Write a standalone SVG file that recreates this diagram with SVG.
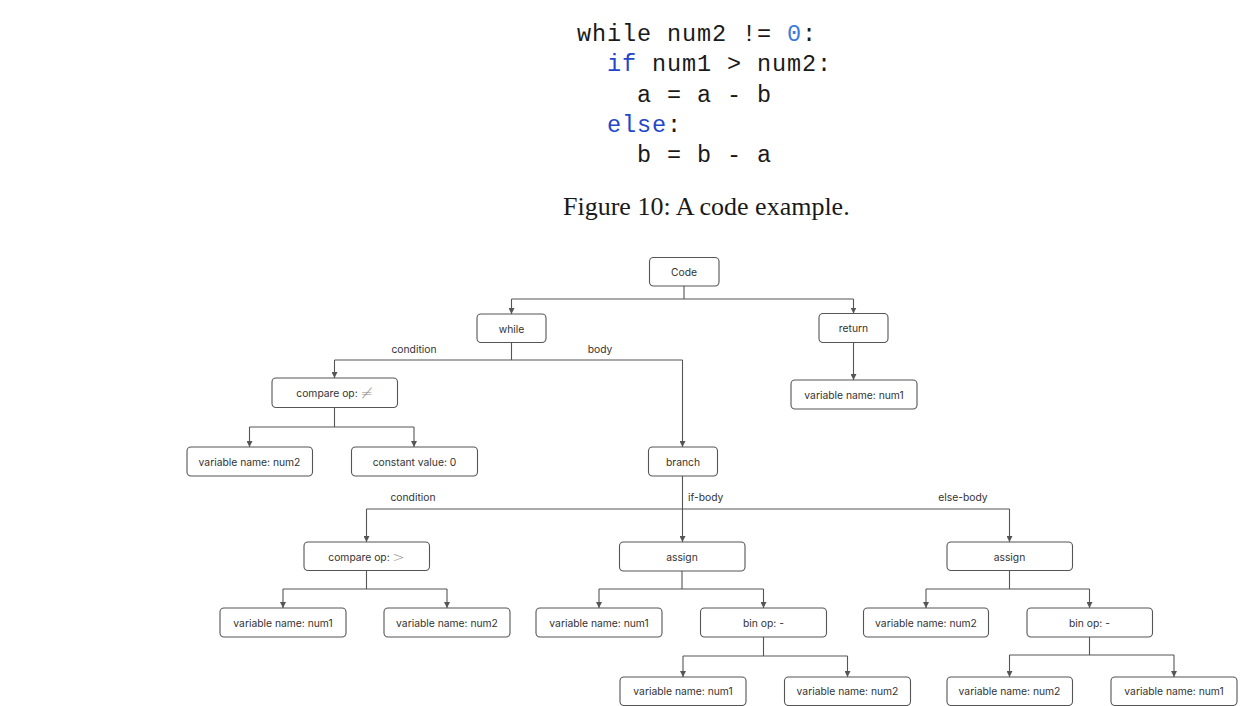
<svg xmlns="http://www.w3.org/2000/svg" width="1252" height="706" viewBox="0 0 1252 706">
<defs>
<marker id="ah" viewBox="0 0 8 8" refX="8" refY="4" markerWidth="6" markerHeight="6" markerUnits="userSpaceOnUse" orient="auto">
<path d="M0,0 L8,4 L0,8 z" fill="#555"/>
</marker>
<style>
.code{font-family:"Liberation Mono","DejaVu Sans Mono",monospace;font-size:23.5px;letter-spacing:0.9px;fill:#1a1a1a}
.kw{fill:#2347c8}
.num{fill:#3b7be0}
.cap{font-family:"Liberation Serif","Times New Roman",serif;font-size:26px;fill:#1a1a1a}
.box{fill:#fff;stroke:#555;stroke-width:1.1}
.lbl{font-family:Inter,"Noto Sans",sans-serif;font-size:10.3px;fill:#333;text-anchor:middle;dominant-baseline:central}
.elbl{font-family:Inter,"Noto Sans",sans-serif;font-size:10.3px;fill:#333;dominant-baseline:central}
.sym{fill:#888;font-size:14.5px;font-family:"DejaVu Sans",sans-serif;font-weight:300}
.ln{fill:none;stroke:#555;stroke-width:1.1}
.ar{fill:none;stroke:#555;stroke-width:1.1;marker-end:url(#ah)}
</style>
</defs>
<rect width="1252" height="706" fill="#fff"/>
<g id="code-listing">
<text class="code" x="577" y="41">while num2 != <tspan class="num">0</tspan>:</text>
<text class="code" x="607" y="71"><tspan class="kw">if</tspan> num1 &gt; num2:</text>
<text class="code" x="637" y="101.5">a = a - b</text>
<text class="code" x="607" y="131.5"><tspan class="kw">else</tspan>:</text>
<text class="code" x="637" y="161.5">b = b - a</text>
</g>
<text class="cap" x="563" y="215">Figure 10: A code example.</text>
<g id="connectors">
<path class="ln" d="M684,286 V299 M511.5,299 H853.5"/>
<path class="ar" d="M511.5,299 V314"/>
<path class="ar" d="M853.5,299 V313.5"/>
<path class="ar" d="M853.5,342.5 V380"/>
<path class="ln" d="M511.5,342.5 V360 M334.5,360 H682.5"/>
<path class="ar" d="M334.5,360 V378"/>
<path class="ar" d="M682.5,360 V447"/>
<path class="ln" d="M334.5,408 V427 M249.5,427 H414"/>
<path class="ar" d="M249.5,427 V447"/>
<path class="ar" d="M414,427 V447"/>
<path class="ln" d="M682.5,476 V509 M366.5,509 H1009.5"/>
<path class="ar" d="M366.5,509 V542"/>
<path class="ar" d="M682.5,509 V542"/>
<path class="ar" d="M1009.5,509 V542"/>
<path class="ln" d="M366.5,570.5 V589 M283,589 H447"/>
<path class="ar" d="M283,589 V608"/>
<path class="ar" d="M447,589 V608"/>
<path class="ln" d="M682,571 V589 M599,589 H763.5"/>
<path class="ar" d="M599,589 V608"/>
<path class="ar" d="M763.5,589 V608"/>
<path class="ln" d="M763.5,637 V656 M683,656 H847.5"/>
<path class="ar" d="M683,656 V677"/>
<path class="ar" d="M847.5,656 V677"/>
<path class="ln" d="M1009.5,570.5 V589 M926,589 H1089.5"/>
<path class="ar" d="M926,589 V608"/>
<path class="ar" d="M1089.5,589 V608"/>
<path class="ln" d="M1089.5,637 V655 M1009.5,655 H1174"/>
<path class="ar" d="M1009.5,655 V677"/>
<path class="ar" d="M1174,655 V677"/>
<text class="lbl" x="414" y="349">condition</text>
<text class="lbl" x="600" y="349">body</text>
<text class="lbl" x="413" y="496.5">condition</text>
<text class="elbl" x="688" y="496.5">if-body</text>
<text class="lbl" x="963" y="496.5">else-body</text>
</g>
<g id="n-code"><rect class="box" x="649.5" y="257.5" width="69.5" height="28.5" rx="4"/><text class="lbl" x="684" y="272">Code</text></g>
<g id="n-while"><rect class="box" x="477" y="314" width="69" height="28.5" rx="4"/><text class="lbl" x="511.5" y="328.5">while</text></g>
<g id="n-return"><rect class="box" x="819" y="313.5" width="69" height="29" rx="4"/><text class="lbl" x="853.5" y="328">return</text></g>
<g id="n-ret-var"><rect class="box" x="791" y="380" width="126" height="29" rx="4"/><text class="lbl" x="854" y="394.5">variable name: num1</text></g>
<g id="n-cmp-ne"><rect class="box" x="272" y="378" width="125.5" height="29.5" rx="4"/><text class="lbl" x="334.5" y="393">compare op: <tspan class="sym">≠</tspan></text></g>
<g id="n-var-num2-a"><rect class="box" x="187" y="447" width="125.5" height="29" rx="4"/><text class="lbl" x="249.5" y="461.5">variable name: num2</text></g>
<g id="n-const"><rect class="box" x="351.5" y="447" width="126" height="29" rx="4"/><text class="lbl" x="414.5" y="461.5">constant value: 0</text></g>
<g id="n-branch"><rect class="box" x="648.5" y="447" width="69" height="29" rx="4"/><text class="lbl" x="683" y="461.5">branch</text></g>
<g id="n-cmp-gt"><rect class="box" x="304" y="542" width="125.5" height="28.5" rx="4"/><text class="lbl" x="366.5" y="556.5">compare op: <tspan class="sym">&gt;</tspan></text></g>
<g id="n-gt-num1"><rect class="box" x="220" y="608" width="126" height="29" rx="4"/><text class="lbl" x="283" y="622.5">variable name: num1</text></g>
<g id="n-gt-num2"><rect class="box" x="384" y="608" width="126" height="29" rx="4"/><text class="lbl" x="447" y="622.5">variable name: num2</text></g>
<g id="n-assign-if"><rect class="box" x="619.5" y="542" width="125.5" height="29" rx="4"/><text class="lbl" x="682" y="556.5">assign</text></g>
<g id="n-if-num1"><rect class="box" x="536" y="608" width="126" height="29" rx="4"/><text class="lbl" x="599" y="622.5">variable name: num1</text></g>
<g id="n-if-binop"><rect class="box" x="700.5" y="608" width="126" height="29" rx="4"/><text class="lbl" x="763.5" y="622.5">bin op: -</text></g>
<g id="n-if-b-num1"><rect class="box" x="620" y="677" width="126" height="28.5" rx="4"/><text class="lbl" x="683" y="691">variable name: num1</text></g>
<g id="n-if-b-num2"><rect class="box" x="784.5" y="677" width="126" height="28.5" rx="4"/><text class="lbl" x="847.5" y="691">variable name: num2</text></g>
<g id="n-assign-else"><rect class="box" x="947" y="542" width="125.5" height="28.5" rx="4"/><text class="lbl" x="1009.5" y="556.5">assign</text></g>
<g id="n-else-num2"><rect class="box" x="863.5" y="608" width="125" height="29" rx="4"/><text class="lbl" x="926" y="622.5">variable name: num2</text></g>
<g id="n-else-binop"><rect class="box" x="1027" y="608" width="125.5" height="29" rx="4"/><text class="lbl" x="1089.5" y="622.5">bin op: -</text></g>
<g id="n-else-b-num2"><rect class="box" x="947" y="677" width="125.5" height="28.5" rx="4"/><text class="lbl" x="1009.5" y="691">variable name: num2</text></g>
<g id="n-else-b-num1"><rect class="box" x="1111" y="677" width="126" height="28.5" rx="4"/><text class="lbl" x="1174" y="691">variable name: num1</text></g>
</svg>
